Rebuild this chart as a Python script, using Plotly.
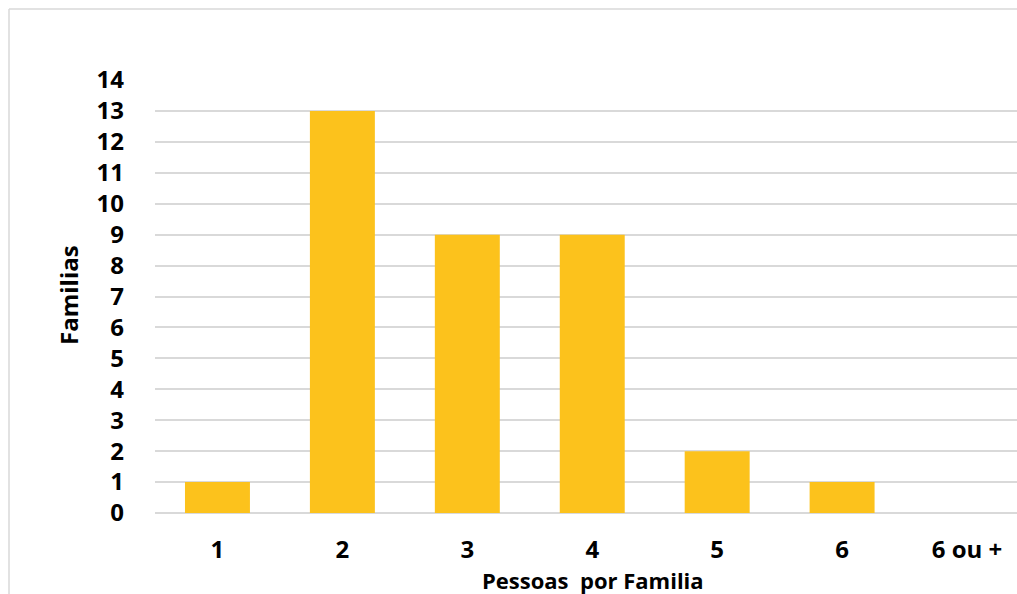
import plotly.graph_objects as go

categories = ["1", "2", "3", "4", "5", "6", "6 ou +"]
familias = [1, 13, 9, 9, 2, 1, 0]
y_ticks = list(range(0, 15))

FONT = "'Open Sans', 'Noto Sans', sans-serif"

L, R, T, B = 155, 0, 80, 81
W, H = 1017, 594
pw = W - L - R
ph = H - T - B

fig = go.Figure()
fig.add_trace(go.Bar(
    x=list(range(len(categories))), y=familias,
    width=0.52,
    marker=dict(color="#FCC21C", line=dict(width=0)),
    hoverinfo="x+y",
))

fig.update_layout(
    width=W, height=H,
    margin=dict(l=L, r=R, t=T, b=B, pad=0),
    paper_bgcolor="white", plot_bgcolor="white",
    showlegend=False,
    font=dict(family=FONT, color="black"),
)
fig.update_xaxes(
    range=[-0.5, 6.4],
    tickmode="array", tickvals=list(range(len(categories))),
    ticktext=["<b>%s</b>" % c for c in categories],
    tickfont=dict(size=24, family=FONT, color="black"),
    showgrid=False, zeroline=False, showline=False, ticks="",
    ticklabelstandoff=20,
)
fig.update_yaxes(
    range=[0, 14],
    tickmode="array", tickvals=y_ticks, ticktext=["<b>%d</b>" % v for v in y_ticks],
    tickfont=dict(size=24, family=FONT, color="black"),
    showgrid=True, gridcolor="#d9d9d9", gridwidth=1.5,
    zeroline=True, zerolinecolor="#d9d9d9", zerolinewidth=1.5,
    showline=False, ticks="", ticklabelstandoff=30,
)

# outer chart border (left and top)
bx = (9 - L) / pw
by = (H - B - 9) / ph
fig.add_shape(type="line", xref="paper", yref="paper", x0=bx, x1=bx, y0=by, y1=-0.3,
              line=dict(color="#d9d9d9", width=1.5))
fig.add_shape(type="line", xref="paper", yref="paper", x0=bx, x1=1.05, y0=by, y1=by,
              line=dict(color="#d9d9d9", width=1.5))

fig.add_annotation(text="<b>Familias</b>", xref="paper", yref="paper",
                   x=(68 - L) / pw, y=(H - B - 295) / ph, textangle=-90,
                   showarrow=False, font=dict(size=24, family=FONT, color="black"),
                   xanchor="center", yanchor="middle")
fig.add_annotation(text="<b>Pessoas  por Familia</b>", xref="paper", yref="paper",
                   x=(593 - L) / pw, y=(H - B - 580) / ph,
                   showarrow=False, font=dict(size=22, family=FONT, color="black"),
                   xanchor="center", yanchor="middle")

fig.write_html("out.html")
